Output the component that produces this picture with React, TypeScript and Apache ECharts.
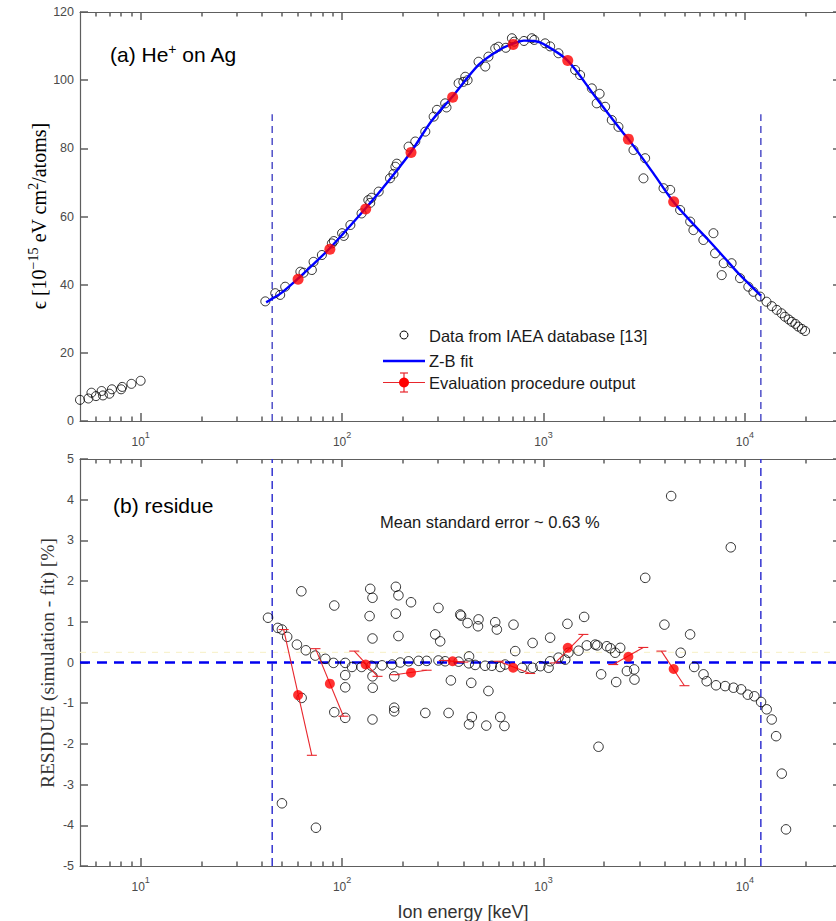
import React, { useEffect, useRef } from 'react';
import * as echarts from 'echarts';

// ---------------- data ----------------
const iaeaEnergy = [
  5.0, 5.5, 5.7, 6.0, 6.4, 6.5, 7.0, 7.2, 8.0, 8.1, 9.0, 10.0,
  41.6, 46.6, 49.3, 52.2, 62.1, 64.4, 70.8, 72.2, 79.4, 89, 91, 100, 102, 110, 125, 135, 138, 140,
  152, 173, 180, 184, 187, 214, 231, 259, 285, 296, 325, 330, 379, 400, 409, 420, 476, 514, 533,
  576, 598, 650, 697, 716, 800, 875, 900, 1019, 1079, 1187, 1436, 1520, 1738, 1838, 1900, 2023,
  2183, 2356, 2798, 3136, 3197, 3945, 4257, 4770, 5350, 5550, 6220, 6980, 7110, 7670, 7850, 8590,
  9460, 10400, 11020, 11900,
  12800, 13600, 14400, 15200, 15800, 16500, 17100, 17800, 18400, 19200, 19900,
];
const iaeaStopping = [
  6.2, 6.6, 8.3, 7.3, 8.8, 7.5, 8.0, 9.3, 9.3, 10.0, 10.9, 11.8,
  35.1, 37.5, 37.0, 39.4, 43.8, 43.5, 44.3, 46.7, 48.7, 52.1, 52.8, 55.1, 54.3, 57.5, 60.9, 64.8, 64.0, 65.5,
  67.3, 71.2, 72.5, 74.6, 75.5, 80.5, 82.0, 84.9, 89.3, 91.3, 93.2, 92.0, 99.1, 99.5, 101, 100, 105.4, 104, 106.9,
  109.3, 109.8, 109.5, 112.3, 111.3, 111.5, 112.3, 111.8, 110.8, 109.9, 107.9, 103, 101.5, 97.6, 93.2, 96, 92.2,
  88.3, 86.3, 79.5, 71.2, 77.1, 68.3, 67.8, 61.9, 58.5, 56, 53.1, 55.1, 49.2, 42.8, 46.3, 46.3,
  41.9, 39.4, 37.9, 36.5,
  35.0, 33.7, 32.6, 31.6, 30.6, 29.8, 29.1, 28.5, 27.7, 27.0, 26.4,
];

const fitEnergy = [42, 45, 50, 60, 70, 86, 100, 130, 160, 219, 278, 351, 476, 600, 705, 800, 900, 1000, 1315, 1805, 2494, 2640, 3500, 4415, 5500, 6590, 8000, 9290, 12000];
const fitStopping = [34.8, 35.9, 37.6, 41.6, 45.3, 50.4, 54.6, 62.2, 68.5, 78.8, 88.0, 95.0, 104.5, 108.8, 110.7, 111.6, 111.5, 110.6, 105.8, 95.2, 84.4, 82.7, 72.8, 64.3, 58.0, 53.1, 47.6, 43.3, 36.8];

const evalEnergy = [60.5, 87, 131, 220, 354, 707, 1320, 2640, 4430];
const evalStopping = [41.6, 50.4, 62.2, 78.8, 95.0, 110.5, 105.8, 82.7, 64.3];
const evalResidue = [-0.80, -0.52, -0.05, -0.25, 0.03, -0.13, 0.36, 0.14, -0.16];
const errStartEnergy = [51.3, 73.8, 115, 183, 320, 599, 1143, 2220, 3850];
const errStartResidue = [0.81, 0.34, 0.28, -0.30, 0.05, 0.03, -0.01, -0.05, 0.28];
const errEndEnergy = [70.8, 101.6, 150, 263, 400, 859, 1578, 3130, 5010];
const errEndResidue = [-2.28, -1.32, -0.34, -0.19, 0.01, -0.27, 0.69, 0.37, -0.57];

const residueEnergy = [
  42.9, 48, 50.3, 53.4, 59.7, 66.1, 73.6, 82.6, 90.7, 103.7, 112, 125, 140, 158, 177, 194.5, 214,
  62.8, 91.5, 138, 141.6, 137, 141.6, 185, 190.5, 185, 190.5, 220,
  63, 103.7, 103.7, 91.5, 103.7, 141.6, 142, 141.6, 181.5, 181.5, 181.5, 50.3, 74.2,
  301, 386, 390, 420, 476, 473, 576, 587, 710, 724, 290, 307, 427,
  347, 438, 533, 259, 338, 441, 427, 520, 610, 640,
  240, 263, 301, 325, 379, 426, 458, 513, 554, 610, 645, 782,
  883, 965, 1060, 1079, 1187, 1282, 1330, 1493, 1641, 1807, 1850, 2063, 2150, 2270, 2404, 2595, 2820, 2830, 2296, 1933, 1876,
  883, 1079, 1315, 1592, 3200, 3985, 4304, 4800, 5345, 8510,
  5600, 6230, 6460, 7190, 7980, 8780, 9580, 10330, 11150, 12030, 12830, 13590, 14290, 15240, 16000,
];
const residueValues = [
  1.10, 0.85, 0.81, 0.63, 0.44, 0.30, 0.17, 0.09, -0.01, -0.01, -0.11, -0.11, -0.08, -0.07, -0.05, 0.0, 0.03,
  1.75, 1.40, 1.81, 1.59, 1.14, 0.59, 1.86, 1.65, 1.20, 0.65, 1.48,
  -0.87, -0.31, -0.61, -1.22, -1.36, -0.34, -0.62, -1.40, -1.11, -1.20, -0.34, -3.46, -4.06,
  1.34, 1.18, 1.15, 0.97, 1.06, 0.89, 0.99, 0.81, 0.93, 0.28, 0.69, 0.52, 0.15,
  -0.44, -0.50, -0.70, -1.24, -1.24, -1.34, -1.52, -1.55, -1.34, -1.56,
  0.04, 0.04, 0.05, 0.03, 0.02, -0.02, -0.06, -0.08, -0.08, -0.11, -0.05, -0.13,
  -0.13, -0.09, -0.13, 0.03, 0.12, 0.07, 0.24, 0.29, 0.42, 0.44, 0.42, 0.40, 0.35, 0.24, 0.36, -0.21, -0.17, -0.42, -0.48, -0.29, -2.07,
  0.48, 0.61, 0.95, 1.12, 2.08, 0.93, 4.09, 0.24, 0.69, 2.83,
  -0.11, -0.29, -0.46, -0.56, -0.58, -0.62, -0.66, -0.79, -0.83, -0.97, -1.15, -1.40, -1.81, -2.73, -4.10,
];

const cutoffLow = 45;
const cutoffHigh = 12000;
const cutoffTopHeight = 90;
const yellowLevel = 0.25;

const xMin = 5;
const xMax = 30000;
const topYMin = 0;
const topYMax = 120;
const bottomYMin = -5;
const bottomYMax = 5;
const majorTicks = [10, 100, 1000, 10000];
const minorTicks = [6, 7, 8, 9, 20, 30, 40, 50, 60, 70, 80, 90, 200, 300, 400, 500, 600, 700, 800, 900,
  2000, 3000, 4000, 5000, 6000, 7000, 8000, 9000, 20000];

// ---------------- styles ----------------
const AX = '#5e5e5e';
const LBL = '#4a4a4a';
const SANS = 'Liberation Sans, Arial, sans-serif';
const SERIF = 'Liberation Serif, DejaVu Serif, Times New Roman, serif';

const zip = (a: number[], b: number[]) => a.map((v, i) => [v, b[i]]);

const labelFormatter = (v: number) => {
  const k = Math.log10(v);
  if (Math.abs(k - Math.round(k)) > 1e-6) return '';
  return `{b|10}{s|${Math.round(k)}}`;
};

function xAxisFor(gridIndex: number, position: 'top' | 'bottom', major: boolean, labels: boolean) {
  return {
    gridIndex,
    type: 'log',
    logBase: 10,
    min: xMin,
    max: xMax,
    position,
    axisLine: { show: major, onZero: false, lineStyle: { color: AX, width: 1.2 } },
    axisTick: {
      show: true,
      inside: true,
      length: major ? 8 : 4.5,
      customValues: major ? majorTicks : minorTicks,
      lineStyle: { color: AX, width: 1.5 },
    },
    minorTick: { show: false },
    splitLine: { show: false },
    axisLabel: labels
      ? {
          show: true,
          margin: 15,
          formatter: labelFormatter,
          rich: {
            b: { fontSize: 12, color: LBL, fontFamily: SANS, verticalAlign: 'bottom', lineHeight: 12 },
            s: { fontSize: 9, color: LBL, fontFamily: SANS, verticalAlign: 'bottom', lineHeight: 9, padding: [0, 0, 9, 0] },
          },
        }
      : { show: false },
  };
}

function yAxisFor(gridIndex: number, min: number, max: number, interval: number, position: 'left' | 'right') {
  return {
    gridIndex,
    type: 'value',
    position,
    min,
    max,
    interval,
    axisLine: { show: true, onZero: false, lineStyle: { color: AX, width: 1.2 } },
    splitLine: { show: false },
    axisTick: { show: true, inside: true, length: 8, lineStyle: { color: AX, width: 1.5 } },
    axisLabel: position === 'left'
      ? { show: true, color: LBL, fontSize: 12.5, fontFamily: SANS, margin: 6 }
      : { show: false },
  };
}

// axis indices: top panel x 0..3, bottom panel x 4..7; top y 0..1, bottom y 2..3
const TOPX = 0;
const BOTX = 4;
const TOPY = 0;
const BOTY = 2;

function dashed(name: string, xi: number, yi: number, data: number[][], color: string, width: number, dash: number[], z = 2) {
  return {
    name,
    type: 'line',
    xAxisIndex: xi,
    yAxisIndex: yi,
    data,
    symbol: 'none',
    silent: true,
    z,
    lineStyle: { color, width, type: dash },
  };
}

export default function App() {
  const ref = useRef<HTMLDivElement>(null);

  useEffect(() => {
    if (!ref.current) return;
    const chart = echarts.init(ref.current, undefined, { renderer: 'svg' });

    const supRich = (size: number, family: string, color: string, raise: number) => ({
      n: { fontSize: size, fontFamily: family, color, verticalAlign: 'bottom', lineHeight: size * 1.2 },
      sup: { fontSize: Math.round(size * 0.68), fontFamily: family, color, verticalAlign: 'bottom', lineHeight: size * 0.8, padding: [0, 0, raise, 0] },
    });

    const option: any = {
      animation: false,
      backgroundColor: '#ffffff',
      grid: [
        { left: 80, right: 9, top: 12, height: 409, show: false },
        { left: 80, right: 9, top: 459, height: 407, show: false },
      ],
      xAxis: [
        xAxisFor(0, 'bottom', true, true),
        xAxisFor(0, 'bottom', false, false),
        xAxisFor(0, 'top', true, false),
        xAxisFor(0, 'top', false, false),
        xAxisFor(1, 'bottom', true, true),
        xAxisFor(1, 'bottom', false, false),
        xAxisFor(1, 'top', true, false),
        xAxisFor(1, 'top', false, false),
      ],
      yAxis: [
        yAxisFor(0, topYMin, topYMax, 20, 'left'),
        yAxisFor(0, topYMin, topYMax, 20, 'right'),
        yAxisFor(1, bottomYMin, bottomYMax, 1, 'left'),
        yAxisFor(1, bottomYMin, bottomYMax, 1, 'right'),
      ],
      series: [
        // ---- top panel ----
        dashed('cutLowTop', TOPX, TOPY, [[cutoffLow, 0], [cutoffLow, cutoffTopHeight]], '#4f4fc8', 1.5, [7, 5]),
        dashed('cutHighTop', TOPX, TOPY, [[cutoffHigh, 0], [cutoffHigh, cutoffTopHeight]], '#4f4fc8', 1.5, [7, 5]),
        {
          name: 'Data from IAEA database [13]',
          type: 'scatter',
          xAxisIndex: TOPX,
          yAxisIndex: TOPY,
          data: zip(iaeaEnergy, iaeaStopping),
          symbol: 'circle',
          symbolSize: 9,
          itemStyle: { color: 'transparent', borderColor: '#000000', borderWidth: 1 },
          z: 3,
        },
        {
          name: 'Z-B fit',
          type: 'line',
          xAxisIndex: TOPX,
          yAxisIndex: TOPY,
          data: zip(fitEnergy, fitStopping),
          showSymbol: false,
          symbol: 'none',
          smooth: 0.3,
          lineStyle: { color: '#0000ff', width: 2.4 },
          z: 4,
        },
        {
          name: 'Evaluation procedure output',
          type: 'scatter',
          xAxisIndex: TOPX,
          yAxisIndex: TOPY,
          data: zip(evalEnergy, evalStopping),
          symbol: 'circle',
          symbolSize: 11,
          itemStyle: { color: '#ff0000' },
          z: 5,
        },
        // ---- bottom panel ----
        dashed('yellow', BOTX, BOTY, [[xMin, yellowLevel], [xMax, yellowLevel]], '#f7f0c4', 1, [6, 6], 1),
        dashed('zero', BOTX, BOTY, [[xMin, 0], [xMax, 0]], '#0000f0', 2.6, [10, 7], 2),
        dashed('cutLowBottom', BOTX, BOTY, [[cutoffLow, bottomYMin], [cutoffLow, bottomYMax]], '#3434d0', 1.5, [8, 5], 2),
        dashed('cutHighBottom', BOTX, BOTY, [[cutoffHigh, bottomYMin], [cutoffHigh, bottomYMax]], '#3434d0', 1.5, [8, 5], 2),
        {
          name: 'residue',
          type: 'scatter',
          xAxisIndex: BOTX,
          yAxisIndex: BOTY,
          data: zip(residueEnergy, residueValues),
          symbol: 'circle',
          symbolSize: 9.5,
          itemStyle: { color: 'transparent', borderColor: '#000000', borderWidth: 1 },
          z: 3,
        },
        {
          name: 'errorbars',
          type: 'custom',
          xAxisIndex: BOTX,
          yAxisIndex: BOTY,
          silent: true,
          z: 4,
          data: errStartEnergy.map((e, i) => [e, errStartResidue[i], errEndEnergy[i], errEndResidue[i]]),
          encode: { x: [0, 2], y: [1, 3] },
          renderItem: (params: any, api: any) => {
            const p1 = api.coord([api.value(0), api.value(1)]);
            const p2 = api.coord([api.value(2), api.value(3)]);
            const st = { stroke: '#e8262c', lineWidth: 1.1 };
            const cap = 5;
            return {
              type: 'group',
              children: [
                { type: 'line', shape: { x1: p1[0], y1: p1[1], x2: p2[0], y2: p2[1] }, style: st },
                { type: 'line', shape: { x1: p1[0] - cap, y1: p1[1], x2: p1[0] + cap, y2: p1[1] }, style: st },
                { type: 'line', shape: { x1: p2[0] - cap, y1: p2[1], x2: p2[0] + cap, y2: p2[1] }, style: st },
              ],
            };
          },
        },
        {
          name: 'evalResidue',
          type: 'scatter',
          xAxisIndex: BOTX,
          yAxisIndex: BOTY,
          data: zip(evalEnergy, evalResidue),
          symbol: 'circle',
          symbolSize: 10,
          itemStyle: { color: '#ff0000' },
          z: 5,
        },
      ],
      graphic: [
        // panel titles
        {
          type: 'text', x: 110, y: 52,
          style: {
            text: '{n|(a) He}{sup|+}{n| on Ag}',
            rich: supRich(21, SANS, '#1a1a1a', 9),
            verticalAlign: 'middle',
          },
        },
        {
          type: 'text', x: 113, y: 503,
          style: {
            text: '{n|(b) residue}',
            rich: supRich(21, SANS, '#1a1a1a', 9),
            verticalAlign: 'middle',
          },
        },
        {
          type: 'text', x: 380, y: 522,
          style: { text: 'Mean standard error ~ 0.63 %', font: `16.5px ${SANS}`, fill: '#1a1a1a', verticalAlign: 'middle' },
        },
        // legend
        { type: 'circle', shape: { cx: 404, cy: 335, r: 4 }, style: { fill: 'transparent', stroke: '#000', lineWidth: 1 } },
        { type: 'text', x: 429, y: 336, style: { text: 'Data from IAEA database [13]', font: `16.5px ${SANS}`, fill: '#1a1a1a', verticalAlign: 'middle' } },
        { type: 'line', shape: { x1: 383, y1: 361, x2: 425, y2: 361 }, style: { stroke: '#0000ff', lineWidth: 2.5 } },
        { type: 'text', x: 429, y: 361, style: { text: 'Z-B fit', font: `16.5px ${SANS}`, fill: '#1a1a1a', verticalAlign: 'middle' } },
        { type: 'line', shape: { x1: 383, y1: 382.5, x2: 425, y2: 382.5 }, style: { stroke: '#e8262c', lineWidth: 1.2 } },
        { type: 'line', shape: { x1: 404, y1: 373, x2: 404, y2: 392 }, style: { stroke: '#e8262c', lineWidth: 1.2 } },
        { type: 'line', shape: { x1: 400, y1: 373, x2: 408, y2: 373 }, style: { stroke: '#e8262c', lineWidth: 1.2 } },
        { type: 'line', shape: { x1: 400, y1: 392, x2: 408, y2: 392 }, style: { stroke: '#e8262c', lineWidth: 1.2 } },
        { type: 'circle', shape: { cx: 404, cy: 382.5, r: 5 }, style: { fill: '#ff0000' } },
        { type: 'text', x: 429, y: 383, style: { text: 'Evaluation procedure output', font: `16.5px ${SANS}`, fill: '#1a1a1a', verticalAlign: 'middle' } },
        // axis names
        {
          type: 'text', x: 37, y: 216, rotation: Math.PI / 2,
          style: {
            text: '{n|\u03f5 [10}{sup|\u221215}{n| eV cm}{sup|2}{n|/atoms]}',
            rich: supRich(20, SERIF, '#333333', 9),
            align: 'center',
            verticalAlign: 'middle',
          },
        },
        {
          type: 'text', x: 47, y: 663, rotation: Math.PI / 2,
          style: {
            text: 'RESIDUE (simulation - fit) [%]',
            font: `19.5px ${SERIF}`,
            fill: '#333333',
            align: 'center',
            verticalAlign: 'middle',
          },
        },
        {
          type: 'text', x: 463, y: 912,
          style: { text: 'Ion energy [keV]', font: `18px ${SANS}`, fill: '#333333', align: 'center', verticalAlign: 'middle' },
        },
      ],
    };

    chart.setOption(option);
    return () => chart.dispose();
  }, []);

  return (
    <div style={{ position: 'fixed', left: 0, top: 0, width: 836, height: 921, overflow: 'hidden', background: '#fff' }}>
      <div ref={ref} style={{ width: 850, height: 921 }} />
    </div>
  );
}
